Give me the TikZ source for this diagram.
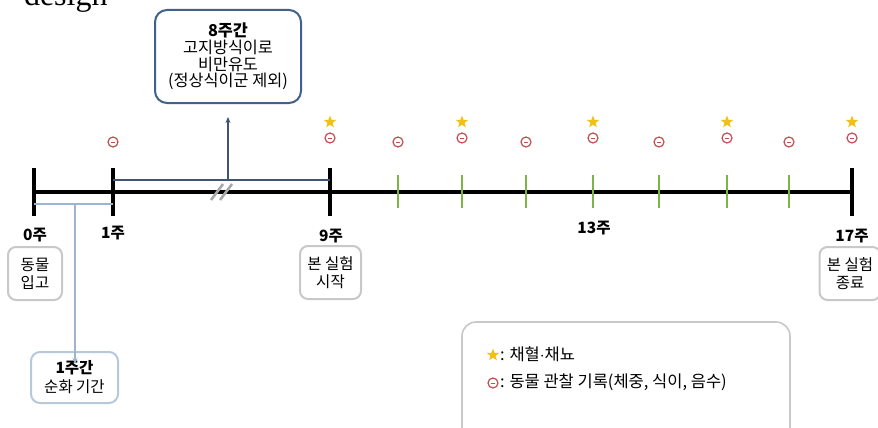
\documentclass[tikz,border=0pt]{standalone}
\usepackage{fontspec}
\setmainfont{Noto Sans CJK KR}
\newfontfamily\serifdesign{Liberation Serif}
\usetikzlibrary{shapes.geometric,arrows.meta}
\definecolor{navybox}{HTML}{41608A}
\definecolor{graybox}{HTML}{C8C8C8}
\definecolor{bluebox}{HTML}{B7C8DC}
\definecolor{lightblue}{HTML}{9DB4CF}
\definecolor{greentick}{HTML}{7DB347}
\definecolor{obsred}{HTML}{C0504D}
\definecolor{stargold}{HTML}{F2C014}
\definecolor{breakgray}{HTML}{A8A8A8}
\definecolor{navyline}{HTML}{3E5470}
\tikzset{
  every node/.style={inner sep=0pt, outer sep=0pt},
  axisline/.style={line width=3.6pt, black},
  majortick/.style={line width=3.2pt, black},
  greenmark/.style={line width=2pt, greentick},
  wklabel/.style={font=\fontsize{15.5}{16}\selectfont\bfseries, anchor=center},
  graylabel/.style={draw=graybox, line width=2pt, rounded corners=8pt, align=center,
     minimum width=54pt, minimum height=53pt, font=\fontsize{15.5}{18}\selectfont},
  obs/.style={circle, draw=obsred, line width=1.2pt, minimum size=10pt,
     path picture={\draw[obsred, line width=1pt] ([xshift=-1.8pt]path picture bounding box.center) -- ([xshift=1.8pt]path picture bounding box.center);}},
  goldstar/.style={star, star points=5, star point ratio=2.4, fill=stargold, minimum size=13pt},
}
\begin{document}
\begin{tikzpicture}[x=1pt,y=-1pt]
\useasboundingbox (0,0) rectangle (878,428);
\clip (0,0) rectangle (878,428);
% caption fragment
\node[font=\serifdesign\fontsize{32}{34}\selectfont, anchor=base west] (cap) at (24,6) {design};
% axis
\coordinate (a0) at (34,192);
\coordinate (a17) at (852,192);
\draw[axisline] (a0) -- (a17);
% major ticks
\foreach \n/\x in {t0/34,t1/113,t9/330,t17/852}{
  \coordinate (\n top) at (\x,168);
  \coordinate (\n bot) at (\x,216);
  \draw[majortick] (\n top) -- (\n bot);
}
% green ticks
\foreach \x [count=\i] in {398,462,526,593,659,727,789}{
  \coordinate (g\i top) at (\x,175);
  \coordinate (g\i bot) at (\x,208);
  \draw[greenmark] (g\i top) -- (g\i bot);
}
% break mark
\coordinate (br1a) at (211,200); \coordinate (br1b) at (223,184);
\coordinate (br2a) at (220,200); \coordinate (br2b) at (232,184);
\draw[breakgray, line width=2.6pt] (br1a) -- (br1b);
\draw[breakgray, line width=2.6pt] (br2a) -- (br2b);
% week labels
\node[wklabel] (w0) at (35,235) {0주};
\node[wklabel] (w1) at (113,233) {1주};
\node[wklabel] (w9) at (331,236) {9주};
\node[wklabel] (w13) at (594,228) {13주};
\node[wklabel] (w17) at (852,236) {17주};
% event boxes
\node[graylabel] (in) at (35,273.5) {동물\\입고};
\node[graylabel, minimum width=61pt] (start) at (330.5,272.5) {본 실험\\시작};
\node[graylabel, minimum width=61pt] (end) at (850,273.5) {본 실험\\종료};
% top box
\node[draw=navybox, line width=2pt, rounded corners=12pt, align=center,
  minimum width=146pt, minimum height=93pt, font=\fontsize{16.3}{16.8}\selectfont] (hfd) at (228,56.5)
  {\textbf{8주간}\\고지방식이로\\비만유도\\(정상식이군 제외)};
% acclimation box
\node[draw=bluebox, line width=2pt, rounded corners=9pt, align=center,
  minimum width=87pt, minimum height=51pt, font=\fontsize{15.5}{19}\selectfont] (acc) at (74.5,377.5)
  {\textbf{1주간}\\순화 기간};
% upper bracket 1-9
\coordinate (ub1) at (113,180);
\coordinate (ub9) at (330,180);
\coordinate (ubm) at (228,180);
\draw[navyline, line width=1.4pt] (ub1) -- (ub9);
\draw[navyline, line width=1.2pt, -{Stealth[length=6pt,width=5pt]}] (ubm) -- ([yshift=-14pt]hfd.south);
% lower bracket 0-1
\coordinate (lb0) at (34,204);
\coordinate (lb1) at (113,204);
\coordinate (lbm) at (75,204);
\draw[lightblue, line width=1.4pt] (lb0) -- (lb1);
\draw[lightblue, line width=1.2pt, -{Stealth[length=6pt,width=5pt]}] (lbm) -- ([yshift=-12pt]acc.north -| lbm);
% observation marks
\foreach \x/\y [count=\i] in {113/142,330/138,398/142,462/138,526/142,593/138,659/142,727/138,789/142,852/138}{
  \node[obs] (o\i) at (\x,\y) {};
}
% sampling stars
\foreach \x [count=\i] in {330,462,593,727,852}{
  \node[goldstar] (s\i) at (\x,122) {};
}
% legend
\node[draw=graybox, line width=1.6pt, rounded corners=14pt, minimum width=328pt, minimum height=130pt] (leg) at (626,387) {};
\node[goldstar] (ls) at (493,355) {};
\node[anchor=west, font=\fontsize{16.5}{17}\selectfont] (lst) at (500,354) {: 채혈$\cdot$채뇨};
\node[obs] (lo) at (493,383) {};
\node[anchor=west, font=\fontsize{16.5}{17}\selectfont] (lot) at (500,382) {: 동물 관찰 기록(체중, 식이, 음수)};
\end{tikzpicture}
\end{document}
